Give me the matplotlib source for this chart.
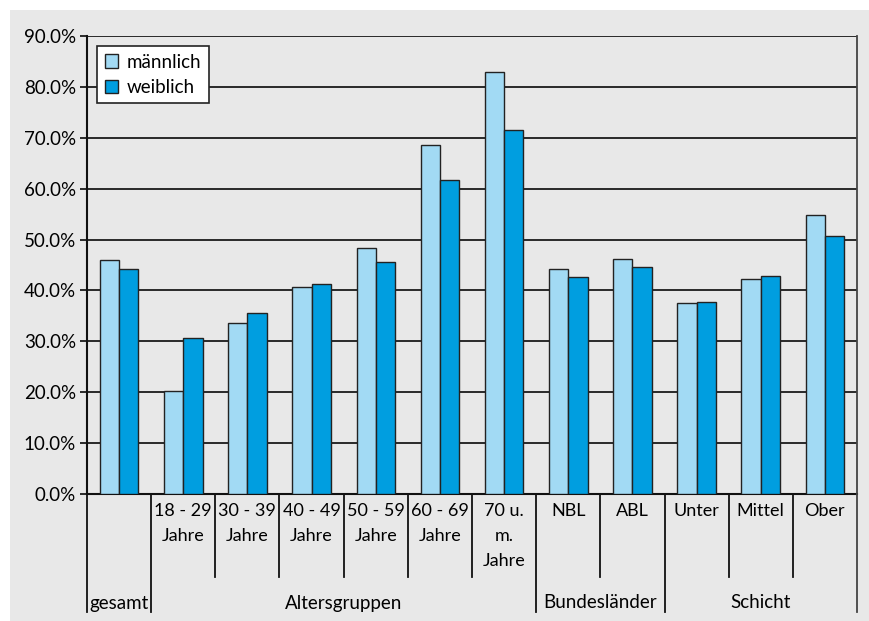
import matplotlib.pyplot as plt
from matplotlib.patches import Rectangle
from matplotlib.ticker import FuncFormatter
import numpy as np

plt.rcParams['font.family'] = ['Lato', 'DejaVu Sans']
plt.rcParams['font.size'] = 13.5

categories = ['', '18 - 29\nJahre', '30 - 39\nJahre', '40 - 49\nJahre', '50 - 59\nJahre',
              '60 - 69\nJahre', '70 u.\nm.\nJahre', 'NBL', 'ABL', 'Unter', 'Mittel', 'Ober']
maennlich = [45.9, 20.3, 33.6, 40.6, 48.4, 68.5, 83.0, 44.3, 46.1, 37.6, 42.2, 54.9]
weiblich = [44.3, 30.6, 35.5, 41.2, 45.6, 61.7, 71.5, 42.7, 44.7, 37.8, 42.9, 50.7]

# group name, first category, last category
groups = [('gesamt', 0, 0), ('Altersgruppen', 1, 6), ('Bundesländer', 7, 8), ('Schicht', 9, 11)]

col_m = '#a2daf4'
col_w = '#009ee0'
bg = '#e8e8e8'

W, H = 869, 621
fig = plt.figure(figsize=(W / 100, H / 100), dpi=100)
fig.patch.set_facecolor('white')
fig.add_artist(Rectangle((10 / W, 0), 1, (H - 10) / H, transform=fig.transFigure,
                         facecolor=bg, edgecolor='none', zorder=0))

left, right, top, bottom = 87, 857, 36, 494
ax = fig.add_axes([left / W, (H - bottom) / H, (right - left) / W, (bottom - top) / H])
ax.set_facecolor(bg)

x = np.arange(len(categories))
w = 0.3
ax.bar(x - w / 2, maennlich, w, color=col_m, edgecolor='#222222', linewidth=1, label='männlich', zorder=3)
ax.bar(x + w / 2, weiblich, w, color=col_w, edgecolor='#222222', linewidth=1, label='weiblich', zorder=3)

ax.set_xlim(-0.5, len(categories) - 0.5)
ax.set_ylim(0, 90)
ax.set_yticks(np.arange(0, 91, 10))
ax.yaxis.set_major_formatter(FuncFormatter(lambda v, p: f'{v:.1f}%'))
ax.yaxis.grid(True, color='#1a1a1a', linewidth=1.3, zorder=1)
ax.tick_params(axis='y', length=5, width=1.3, color='#1a1a1a', labelsize=13.5, pad=3)
ax.set_xticks([])

for s in ['top', 'right']:
    ax.spines[s].set_visible(False)
for s in ['left', 'bottom']:
    ax.spines[s].set_linewidth(1.5)
    ax.spines[s].set_color('#111111')

# category table below the axis
tr = ax.get_xaxis_transform()
span = bottom - top
short_end = -(577 - bottom) / span
long_end = -(612 - bottom) / span
last = len(categories) - 0.5
group_edges = {g[1] - 0.5 for g in groups} | {last}
for b in np.arange(-0.5, len(categories), 1.0):
    end = long_end if b in group_edges else short_end
    color = '#444444' if b == last else '#111111'
    ax.plot([b, b], [1 if b == last else 0, end], transform=tr,
            color=color, linewidth=1.3, clip_on=False, zorder=4)

for i, lab in enumerate(categories):
    ax.text(i, -(503 - bottom) / span, lab, transform=tr, ha='center', va='top',
            fontsize=13, linespacing=1.7)

label_y = -(603 - bottom) / span
for name, a, b in groups:
    if a == b:
        ax.text(a - 0.47, label_y, name, transform=tr, ha='left', va='center', fontsize=13.5)
    else:
        ax.text((a + b) / 2, label_y, name, transform=tr, ha='center', va='center', fontsize=13.5)

leg = ax.legend(loc='upper left', bbox_to_anchor=(10 / (right - left), (bottom - 46) / span),
                borderaxespad=0, fancybox=False, framealpha=1, edgecolor='#222222',
                handlelength=0.7, handleheight=0.7, handletextpad=0.5, labelspacing=0.45,
                borderpad=0.4, fontsize=13.5)
leg.get_frame().set_linewidth(1.2)
leg.set_zorder(5)

fig.savefig('out.png', dpi=100, facecolor=fig.get_facecolor())
